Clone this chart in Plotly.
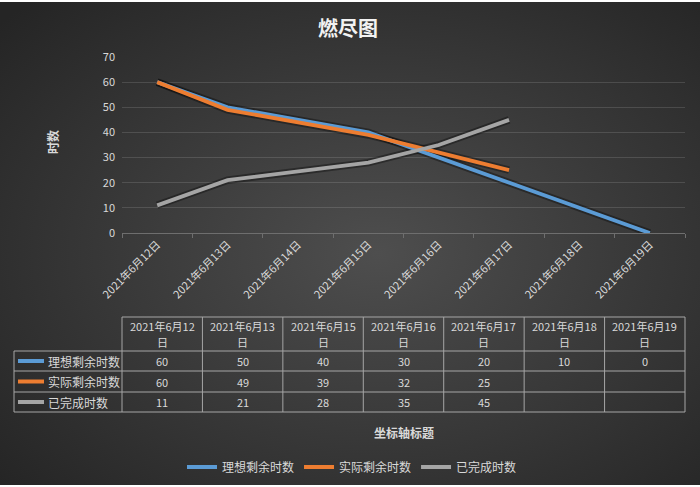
import base64
import plotly.graph_objects as go

# ---------------- data ----------------
axis_dates = ["2021年6月12日", "2021年6月13日", "2021年6月14日", "2021年6月15日",
              "2021年6月16日", "2021年6月17日", "2021年6月18日", "2021年6月19日"]
table_dates = ["2021年6月12日", "2021年6月13日", "2021年6月15日", "2021年6月16日",
               "2021年6月17日", "2021年6月18日", "2021年6月19日"]
series_names = ["理想剩余时数", "实际剩余时数", "已完成时数"]
ideal = [60, 50, 40, 30, 20, 10, 0]
actual = [60, 49, 39, 32, 25, None, None]
done = [11, 21, 28, 35, 45, None, None]
series_values = [ideal, actual, done]
series_colors = ["#5B9BD5", "#ED7D31", "#A5A5A5"]

title_text = "燃尽图"
y_title = "时数"
x_title = "坐标轴标题"

# ---------------- layout geometry (pixels) ----------------
W, H = 700, 487
L, R, T, B = 122, 685, 57, 233   # plot area
def px2x(px):
    return (px - L) / (R - L)
def py2y(py):
    return (B - py) / (B - T)

TXT = "#d9d9d9"
FONT = "Noto Sans CJK SC"

fig = go.Figure()

# soft shadow under lines
for vals in series_values:
    fig.add_trace(go.Scatter(x=table_dates, y=vals, mode="lines",
                             line=dict(color="rgba(0,0,0,0.35)", width=7.5),
                             hoverinfo="skip", showlegend=False))
for name, vals, col in zip(series_names, series_values, series_colors):
    fig.add_trace(go.Scatter(x=table_dates, y=vals, mode="lines", name=name,
                             line=dict(color=col, width=3.8),
                             hoverinfo="skip"))

# background gradient
svg = ("<svg xmlns='http://www.w3.org/2000/svg' width='700' height='483' preserveAspectRatio='none'>"
       "<defs><radialGradient id='g' cx='54%' cy='52%' r='72%'>"
       "<stop offset='0' stop-color='#4e4e4e'/><stop offset='1' stop-color='#252525'/>"
       "</radialGradient></defs><rect width='700' height='483' fill='url(#g)'/></svg>")
src = "data:image/svg+xml;base64," + base64.b64encode(svg.encode()).decode()
images = [dict(source=src, xref="paper", yref="paper", x=px2x(0), y=py2y(2),
               sizex=px2x(W) - px2x(0), sizey=py2y(2) - py2y(485),
               xanchor="left", yanchor="top", sizing="stretch", layer="below")]

shapes = []
ann = []
LINEC = "#a6a6a6"

def text_at(px, py, text, size=11, color=TXT, xanchor="center", **kw):
    ann.append(dict(x=px2x(px), y=py2y(py), xref="paper", yref="paper", text=text,
                    showarrow=False, xanchor=xanchor, yanchor="middle",
                    font=dict(size=size, color=color, family=FONT), **kw))

# data table
col_edges = [L + (R - L) * i / len(table_dates) for i in range(len(table_dates) + 1)]
row_y = [317, 351, 371, 392, 412]
tbl_left = 14
def hline(x0, x1, y):
    shapes.append(dict(type="line", xref="paper", yref="paper", x0=px2x(x0), x1=px2x(x1),
                       y0=py2y(y), y1=py2y(y), line=dict(color=LINEC, width=1)))
def vline(x, y0, y1):
    shapes.append(dict(type="line", xref="paper", yref="paper", x0=px2x(x), x1=px2x(x),
                       y0=py2y(y0), y1=py2y(y1), line=dict(color=LINEC, width=1)))
hline(L, R, row_y[0])
for yy in row_y[1:]:
    hline(tbl_left, R, yy)
vline(tbl_left, row_y[1], row_y[-1])
for xx in col_edges:
    vline(xx, row_y[0], row_y[-1])

for i, d in enumerate(table_dates):
    cx = (col_edges[i] + col_edges[i + 1]) / 2
    text_at(cx, 326, d[:-1])
    text_at(cx, 342, d[-1])
    for r, vals in enumerate(series_values):
        v = vals[i]
        if v is None:
            continue
        text_at(cx, (row_y[r + 1] + row_y[r + 2]) / 2, str(v))

for r, (name, col) in enumerate(zip(series_names, series_colors)):
    yc = (row_y[r + 1] + row_y[r + 2]) / 2
    shapes.append(dict(type="line", xref="paper", yref="paper", x0=px2x(18), x1=px2x(44),
                       y0=py2y(yc), y1=py2y(yc), line=dict(color=col, width=4)))
    text_at(46, yc, name, size=12, xanchor="left")

text_at(348, 28, "<b>" + title_text + "</b>", size=20, color="#f2f2f2")
text_at(52, 142, "<b>" + y_title + "</b>", size=12, textangle=-90)
text_at(404, 432, "<b>" + x_title + "</b>", size=12)

fig.update_layout(
    width=W, height=H,
    margin=dict(l=L, r=W - R, t=T, b=H - B, autoexpand=False),
    paper_bgcolor="white", plot_bgcolor="rgba(0,0,0,0)",
    images=images, shapes=shapes, annotations=ann,
    font=dict(family=FONT, color=TXT),
    showlegend=True,
    legend=dict(orientation="h", xref="container", yref="container",
                x=352 / W, xanchor="center", y=1 - 467 / H, yanchor="middle",
                font=dict(size=12, color=TXT, family=FONT), bgcolor="rgba(0,0,0,0)",
                itemwidth=30),
    hovermode=False,
)
fig.update_xaxes(type="category", categoryorder="array", categoryarray=axis_dates,
                 range=[-0.5, len(axis_dates) - 0.5],
                 tickson="boundaries", ticks="outside", ticklen=4, tickcolor="#6e6e6e",
                 showline=True, linecolor="#6e6e6e", linewidth=1, showgrid=False,
                 tickangle=-45, tickfont=dict(size=11, color=TXT, family=FONT), zeroline=False)
fig.update_yaxes(range=[0, 70], dtick=10, showgrid=True, gridcolor="rgba(255,255,255,0.13)",
                 gridwidth=1, zeroline=False, showline=False, ticks="",
                 tickfont=dict(size=11, color=TXT, family=FONT), ticklabelstandoff=6)

fig.write_html("out.html")
